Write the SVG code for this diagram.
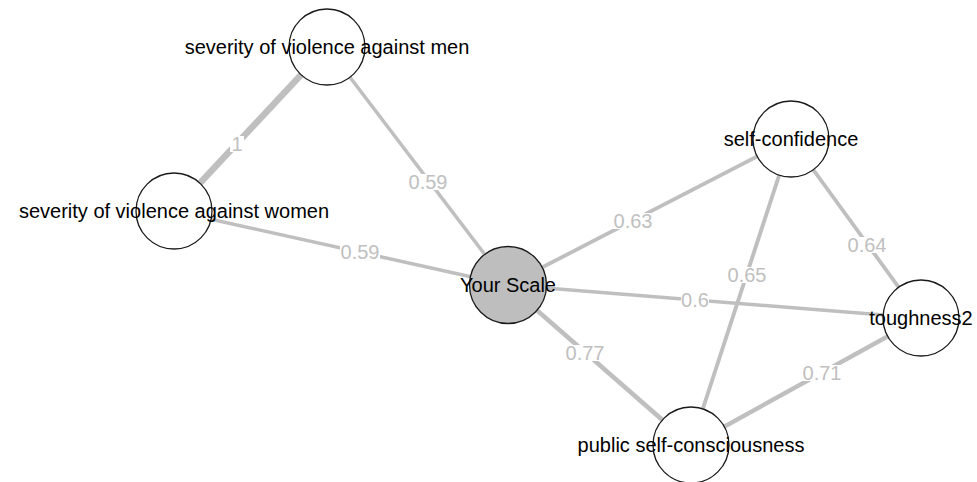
<svg xmlns="http://www.w3.org/2000/svg" width="977" height="482" viewBox="0 0 977 482">
<style>
.edge{stroke:#bfbfbf;fill:none;stroke-linecap:butt}
.lbg{fill:#ffffff}
.elbl{font-family:"Liberation Sans",Arial,sans-serif;font-size:20px;fill:#c0c0c0;text-anchor:middle}
.node{fill:#ffffff;stroke:#1a1a1a;stroke-width:1.3}
.nlbl{font-family:"Liberation Sans",Arial,sans-serif;font-size:20px;fill:#000000;text-anchor:middle}
</style>
<rect width="977" height="482" fill="#ffffff"/>
<g id="connectors">
<line class="edge" x1="174" y1="211" x2="327" y2="47" stroke-width="6.5"/>
<line class="edge" x1="327" y1="47" x2="508" y2="285" stroke-width="3.5"/>
<line class="edge" x1="174" y1="211" x2="508" y2="285" stroke-width="3.5"/>
<line class="edge" x1="508" y1="285" x2="791" y2="139" stroke-width="3.8"/>
<line class="edge" x1="508" y1="285" x2="921" y2="318" stroke-width="3.6"/>
<line class="edge" x1="508" y1="285" x2="691" y2="445" stroke-width="4.6"/>
<line class="edge" x1="791" y1="139" x2="921" y2="318" stroke-width="3.8"/>
<line class="edge" x1="791" y1="139" x2="691" y2="445" stroke-width="3.9"/>
<line class="edge" x1="691" y1="445" x2="921" y2="318" stroke-width="4.3"/>
<g id="edge-labels">
<rect class="lbg" x="230" y="136" width="14" height="16"/>
<text class="elbl" x="237" y="151">1</text>
<rect class="lbg" x="408" y="174" width="40" height="16"/>
<text class="elbl" x="428" y="189">0.59</text>
<rect class="lbg" x="340" y="244" width="40" height="16"/>
<text class="elbl" x="360" y="259">0.59</text>
<rect class="lbg" x="613" y="213" width="40" height="16"/>
<text class="elbl" x="633" y="228">0.63</text>
<rect class="lbg" x="681" y="292" width="28" height="16"/>
<text class="elbl" x="695" y="307">0.6</text>
<rect class="lbg" x="565" y="345" width="40" height="16"/>
<text class="elbl" x="585" y="360">0.77</text>
<rect class="lbg" x="727" y="267" width="40" height="16"/>
<text class="elbl" x="747" y="282">0.65</text>
<rect class="lbg" x="847" y="237" width="40" height="16"/>
<text class="elbl" x="867" y="252">0.64</text>
<rect class="lbg" x="802" y="365" width="40" height="16"/>
<text class="elbl" x="822" y="380">0.71</text>
</g>
</g>
<g id="node-men">
<circle class="node" cx="327" cy="47" r="38"/>
<text class="nlbl" x="327" y="54">severity of violence against men</text>
</g>
<g id="node-women">
<circle class="node" cx="174" cy="211" r="38"/>
<text class="nlbl" x="174" y="218">severity of violence against women</text>
</g>
<g id="node-yourscale">
<circle class="node" cx="508" cy="285" r="38.5" style="fill:#bebebe"/>
<text class="nlbl" x="508" y="292">Your Scale</text>
</g>
<g id="node-selfconfidence">
<circle class="node" cx="791" cy="139" r="38"/>
<text class="nlbl" x="791" y="146">self-confidence</text>
</g>
<g id="node-toughness2">
<circle class="node" cx="921" cy="318" r="38"/>
<text class="nlbl" x="921" y="325">toughness2</text>
</g>
<g id="node-public">
<circle class="node" cx="691" cy="445" r="38"/>
<text class="nlbl" x="691" y="452">public self-consciousness</text>
</g>
</svg>
